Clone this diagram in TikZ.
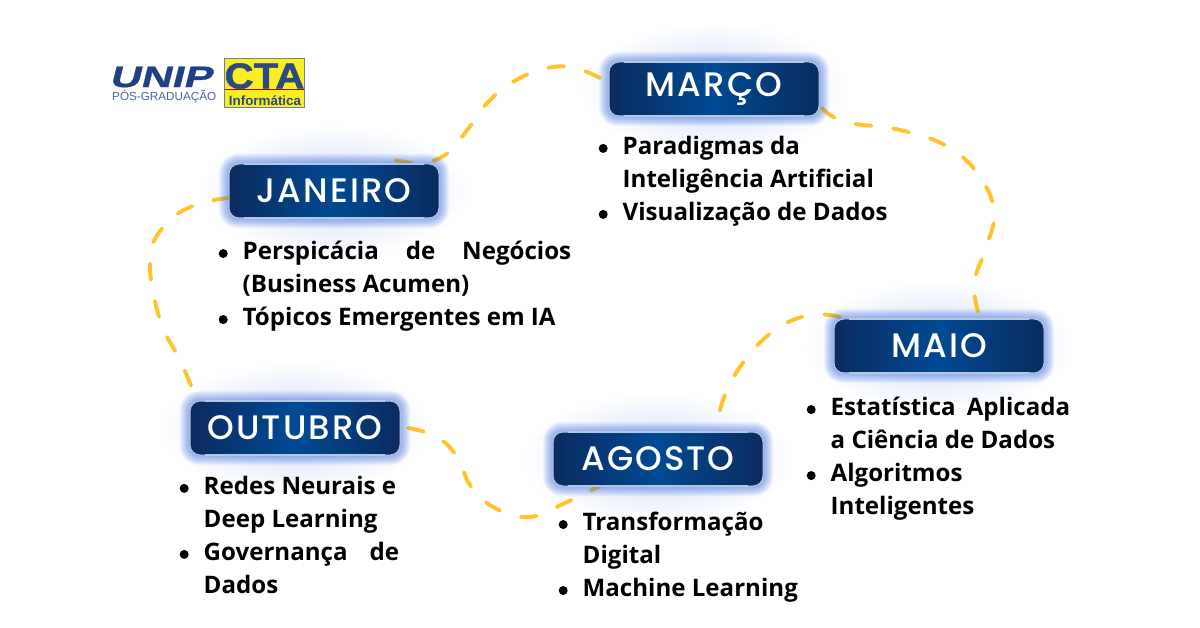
\documentclass[tikz,border=0pt]{standalone}
\usepackage{fontspec}
\setmainfont{Open Sans}
\newfontfamily\titlefont[LetterSpace=6,UprightFont=* Medium]{Poppins}
\newfontfamily\bodyfont{Open Sans}[BoldFont={Open Sans Bold}]
\newfontfamily\unipfont[FakeStretch=1.45,FakeSlant=0.25,FakeBold=1.2]{Liberation Sans Bold}
\newfontfamily\logofont{Liberation Sans}
\newfontfamily\logobold{Liberation Sans Bold}
\newfontfamily\ctafont[FakeStretch=1.12,FakeBold=1.5]{Liberation Sans Bold}
\usetikzlibrary{calc}
\definecolor{navyedge}{HTML}{0A2B5E}
\definecolor{navymid}{HTML}{004A94}
\definecolor{glowblue}{HTML}{2F62E0}
\definecolor{dashgold}{HTML}{FFC42B}
\definecolor{logoblue}{HTML}{1F3F86}
\definecolor{ctablue}{HTML}{2C4A80}
\definecolor{ctayellow}{HTML}{F9EE22}
\tikzset{
  x=1pt,y=-1pt,
  month/.style={minimum width=210pt,minimum height=54pt,inner sep=0pt,rounded corners=10pt,
    left color=navyedge,right color=navyedge,middle color=navymid,draw=white!70!navymid,line width=1pt,
    text=white,font=\titlefont\fontsize{34}{34}\selectfont},
  link/.style={draw=dashgold,line width=3.9pt,line cap=round,dash pattern=on 16pt off 22pt},
  body/.style={anchor=north west,inner sep=0pt,align=left,text=black,
    font=\bodyfont\bfseries\fontsize{24.1}{33}\selectfont},
}
\newcommand{\halo}[2]{%
  \shade[inner color=glowblue!24,outer color=white,draw=none] (#1,#2) ellipse [x radius=135pt,y radius=66pt];
}
\newcommand{\rim}[2]{%
  \foreach \g in {10,9,8,7,6,5,4,3,2,1}{%
    \fill[glowblue,opacity=.06,rounded corners=\g+9pt] ($(#1,#2)+(-105-\g,-27-\g)$) rectangle ($(#1,#2)+(105+\g,27+\g)$);
  }%
}
\newcommand{\shine}[2]{%
  \shade[left color=white!70!navymid,middle color=white,right color=white!70!navymid,draw=none]
    ($(#1,#2)+(-90,-27.8)$) rectangle ($(#1,#2)+(90,-26.2)$);
  \shade[left color=white!70!navymid,middle color=white,right color=white!70!navymid,draw=none]
    ($(#1,#2)+(-90,26.2)$) rectangle ($(#1,#2)+(90,27.8)$);
}
\newcommand{\bul}{\makebox[0pt][r]{\raisebox{5.6pt}{\tikz[baseline]\fill (0,0) circle [radius=4.5pt];}\hspace{15pt}}}
\begin{document}
\begin{tikzpicture}
\useasboundingbox (0,0) rectangle (1200,628);
\fill[white] (0,0) rectangle (1200,628);
% halos
\halo{334}{191}\halo{714}{89}\halo{939}{346}\halo{295}{428}\halo{658}{459}
% anchors for the links
\coordinate (janA) at (229,198);
\coordinate (janB) at (395,160);
\coordinate (marA) at (600,78);
\coordinate (marB) at (822,108);
\coordinate (maiA) at (980,318);
\coordinate (maiB) at (840,317);
\coordinate (agoA) at (716,428);
\coordinate (agoB) at (600,486);
\coordinate (outA) at (408,428);
\coordinate (outB) at (197,400);
% links
\draw[link] plot[smooth,tension=.7] coordinates {(marA) (578,69) (553,67) (520,78) (490,100) (465,133) (445,155) (420,163) (janB)};
\draw[link] plot[smooth,tension=.7] coordinates {(marB) (845,122) (900,130) (950,148) (982,180) (994,215) (985,250) (974,285) (maiA)};
\draw[link] plot[smooth,tension=.7] coordinates {(maiB) (810,315) (775,330) (745,360) (725,395) (agoA)};
\draw[link] plot[smooth,tension=.7] coordinates {(outA) (437,437) (458,458) (470,485) (495,508) (530,517) (565,503) (agoB)};
\draw[link] plot[smooth,tension=.7] coordinates {(janA) (195,205) (165,225) (150,260) (160,320) (180,360) (outB)};
% glows
\rim{334}{191}\rim{714}{89}\rim{939}{346}\rim{295}{428}\rim{658}{459}
% month boxes
\node[month] (jan) at (334,191) {JANEIRO};
\node[month] (mar) at (714,89) {MARÇO};
\node[month] (mai) at (939,346) {MAIO};
\node[month] (out) at (295,428) {OUTUBRO};
\node[month] (ago) at (658,459) {AGOSTO};
\shine{334}{191}\shine{714}{89}\shine{939}{346}\shine{295}{428}\shine{658}{459}
% body text
\node[body] (tjan) at (242.5,240.5) {\bul\hbox to 328.5pt{Perspicácia\hfill de\hfill Negócios}\\(Business Acumen)\\\bul Tópicos Emergentes em IA};
\node[body] (tmar) at (622.5,135.5) {\bul Paradigmas da\\Inteligência Artificial\\\bul Visualização de Dados};
\node[body] (tmai) at (830.5,396.5) {\bul\hbox to 239.5pt{Estatística\hfill Aplicada}\\a Ciência de Dados\\\bul Algoritmos\\Inteligentes};
\node[body] (tout) at (203.5,475.5) {\bul Redes Neurais e\\Deep Learning\\\bul\hbox to 195.5pt{Governança\hfill de}\\Dados};
\node[body] (tago) at (582.5,511.5) {\bul Transformação\\Digital\\\bul Machine Learning};
% logos
\node[anchor=south west,inner sep=0pt,text=logoblue,font=\unipfont\fontsize{29.5}{29.5}\selectfont] (unip) at (109,87.5) {UNIP};
\node[anchor=south west,inner sep=0pt,text=logoblue!80,font=\logofont\fontsize{11.7}{12}\selectfont] (pos) at (112,103.5) {PÓS-GRADUAÇÃO};
\node[draw=ctablue!70,line width=1pt,fill=ctayellow,minimum width=80pt,minimum height=49pt,inner sep=0pt] (cta) at (264,83.5) {};
\fill[red!70!black] (224.5,89.5) rectangle (303.5,90.5);
\node[anchor=south,inner sep=0pt,text=ctablue,font=\ctafont\fontsize{36}{36}\selectfont] (ctat) at (264.5,89) {CTA};
\node[anchor=south,inner sep=0pt,text=ctablue,font=\logobold\fontsize{13.4}{13}\selectfont] (info) at (265,105.5) {Informática};
\end{tikzpicture}
\end{document}
